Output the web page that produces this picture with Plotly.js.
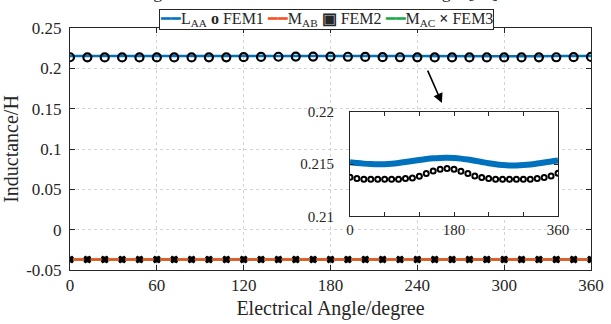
<!DOCTYPE html>
<html>
<head>
<meta charset="utf-8">
<script src="https://cdn.plot.ly/plotly-3.0.1.min.js"></script>
<style>html,body{margin:0;padding:0;background:#fff;}#chart{width:611px;height:324px;}</style>
</head>
<body>
<div id="chart"></div>
<script>
// ---- data ----
const angle = [0,12,24,36,48,60,72,84,96,108,120,132,144,156,168,180,192,204,216,228,240,252,264,276,288,300,312,324,336,348,360];
const L_AA = [0.21520,0.21512,0.21506,0.21502,0.21500,0.21501,0.21505,0.21512,0.21521,0.21531,0.21541,0.21550,0.21557,0.21561,0.21562,0.21560,0.21554,0.21545,0.21534,0.21522,0.21510,0.21500,0.21493,0.21489,0.21489,0.21492,0.21498,0.21507,0.21517,0.21527,0.21536];
const FEM1 = [0.21375,0.21363,0.21356,0.21356,0.21356,0.21356,0.21356,0.21356,0.21363,0.21369,0.21385,0.21411,0.21436,0.21452,0.21459,0.21452,0.21433,0.21411,0.21388,0.21372,0.21363,0.21356,0.21356,0.21356,0.21356,0.21356,0.21356,0.21363,0.21372,0.21388,0.21414];
const M_AB = [-0.037,-0.037,-0.037,-0.037,-0.037,-0.037,-0.037,-0.037,-0.037,-0.037,-0.037,-0.037,-0.037,-0.037,-0.037,-0.037,-0.037,-0.037,-0.037,-0.037,-0.037,-0.037,-0.037,-0.037,-0.037,-0.037,-0.037,-0.037,-0.037,-0.037,-0.037];
const FEM2 = [-0.037,-0.037,-0.037,-0.037,-0.037,-0.037,-0.037,-0.037,-0.037,-0.037,-0.037,-0.037,-0.037,-0.037,-0.037,-0.037,-0.037,-0.037,-0.037,-0.037,-0.037,-0.037,-0.037,-0.037,-0.037,-0.037,-0.037,-0.037,-0.037,-0.037,-0.037];
const M_AC = [-0.037,-0.037,-0.037,-0.037,-0.037,-0.037,-0.037,-0.037,-0.037,-0.037,-0.037,-0.037,-0.037,-0.037,-0.037,-0.037,-0.037,-0.037,-0.037,-0.037,-0.037,-0.037,-0.037,-0.037,-0.037,-0.037,-0.037,-0.037,-0.037,-0.037,-0.037];
const FEM3 = [-0.037,-0.037,-0.037,-0.037,-0.037,-0.037,-0.037,-0.037,-0.037,-0.037,-0.037,-0.037,-0.037,-0.037,-0.037,-0.037,-0.037,-0.037,-0.037,-0.037,-0.037,-0.037,-0.037,-0.037,-0.037,-0.037,-0.037,-0.037,-0.037,-0.037,-0.037];

const seriesNames = ['L<sub>AA</sub>','FEM1','M<sub>AB</sub>','FEM2','M<sub>AC</sub>','FEM3'];
const xTicks = [0,60,120,180,240,300,360];
const yTicks = [-0.05,0,0.05,0.1,0.15,0.2,0.25];
const yTickText = ['-0.05','0','0.05','0.1','0.15','0.2','0.25'];
const insetXTicks = [0,180,360];
const insetXMinor = [60,120,240,300];
const insetYTicks = [0.21,0.215,0.22];
const insetYTickText = ['0.21','0.215','0.22'];
const titleText = 'Winding inductance variation with electrical angle [12]';
const xTitle = 'Electrical Angle/degree';
const yTitle = 'Inductance/H';

// ---- styles ----
const BLUE = '#0072BD', RED = '#F4511E', GREEN = '#16A94A', AX = '#262626';
const SERIF = '"Liberation Serif", "Times New Roman", serif';

const traces = [
  {x: angle, y: M_AC, mode: 'lines', line: {color: GREEN, width: 2.5}, name: seriesNames[4], xaxis: 'x', yaxis: 'y'},
  {x: angle, y: L_AA, mode: 'lines', line: {color: BLUE, width: 2.5}, name: seriesNames[0], xaxis: 'x', yaxis: 'y'},
  {x: angle, y: FEM1, mode: 'markers', marker: {symbol: 'circle-open', size: 8, color: '#000', line: {width: 2.2, color: '#000'}}, name: seriesNames[1], xaxis: 'x', yaxis: 'y'},
  {x: angle, y: M_AB, mode: 'lines', line: {color: RED, width: 2.5}, name: seriesNames[2], xaxis: 'x', yaxis: 'y'},
  {x: angle, y: FEM2, mode: 'markers', marker: {symbol: 'square', size: 6, color: '#000'}, name: seriesNames[3], xaxis: 'x', yaxis: 'y'},
  {x: angle, y: FEM3, mode: 'markers', marker: {symbol: 'x', size: 7, color: '#000', line: {width: 0}}, name: seriesNames[5], xaxis: 'x', yaxis: 'y'},
  // inset
  {x: angle, y: L_AA, mode: 'lines', line: {color: BLUE, width: 6, shape: 'spline'}, name: seriesNames[0], xaxis: 'x2', yaxis: 'y2'},
  {x: angle, y: FEM1, mode: 'markers', marker: {symbol: 'circle-open', size: 5, color: '#000', line: {width: 2, color: '#000'}}, name: seriesNames[1], xaxis: 'x2', yaxis: 'y2'}
];

const legendHtml =
  '<span style="color:' + BLUE + '">━━</span>' + seriesNames[0] +
  ' <b>o</b> ' + seriesNames[1] +
  ' <span style="color:' + RED + '">━━</span>' + seriesNames[2] +
  ' <b>▣</b> ' + seriesNames[3] + ' ' +
  '<span style="color:' + GREEN + '">━━</span>' + seriesNames[4] +
  ' <b>×</b> ' + seriesNames[5];

const baseAxis = {
  showline: true, linecolor: AX, linewidth: 1, mirror: 'ticks',
  ticks: 'inside', ticklen: 5, tickcolor: AX, tickwidth: 1,
  zeroline: false, tickfont: {family: SERIF, size: 17, color: AX}
};

const layout = {
  width: 611, height: 324,
  margin: {l: 70, r: 20, t: 28, b: 54, pad: 0},
  paper_bgcolor: '#fff', plot_bgcolor: '#fff',
  showlegend: false,
  font: {family: SERIF, color: AX},
  xaxis: Object.assign({}, baseAxis, {
    domain: [0, 1], range: [0, 360], tickvals: xTicks, ticktext: xTicks.map(String),
    showgrid: true, gridcolor: '#d4d4d4', griddash: 'dot', gridwidth: 1,
    title: {text: xTitle, font: {family: SERIF, size: 20, color: AX}, standoff: 6}
  }),
  yaxis: Object.assign({}, baseAxis, {
    domain: [0, 1], range: [-0.05, 0.25], tickvals: yTicks, ticktext: yTickText,
    showgrid: true, gridcolor: '#d4d4d4', griddash: 'dot', gridwidth: 1,
    ticklabelstandoff: 4,
    title: {text: yTitle, font: {family: SERIF, size: 20, color: AX}, standoff: 6}
  }),
  xaxis2: Object.assign({}, baseAxis, {
    anchor: 'y2', domain: [0.5374, 0.9367], range: [0, 360],
    tickvals: insetXTicks, ticktext: insetXTicks.map(String), showgrid: false, ticklen: 4,
    minor: {tickvals: insetXMinor, ticks: 'inside', ticklen: 4, tickcolor: AX, showgrid: false},
    tickfont: {family: SERIF, size: 15, color: AX}
  }),
  yaxis2: Object.assign({}, baseAxis, {
    anchor: 'x2', domain: [0.222, 0.652], range: [0.21, 0.22],
    tickvals: insetYTicks, ticktext: insetYTickText, showgrid: false, ticklen: 4,
    ticklabelstandoff: 12,
    tickfont: {family: SERIF, size: 15, color: AX}
  }),
  annotations: [
    {xref: 'x', yref: 'y', axref: 'x', ayref: 'y', x: 257, y: 0.157, ax: 246.7, ay: 0.199,
     text: '', showarrow: true, arrowhead: 2, arrowsize: 1.2, arrowwidth: 1.6, arrowcolor: '#000'},
    {xref: 'paper', yref: 'paper', x: 0.493, y: 1.037, xanchor: 'center', yanchor: 'middle',
     text: legendHtml, showarrow: false, bordercolor: AX, borderwidth: 1, borderpad: 0,
     bgcolor: '#fff', font: {family: SERIF, size: 16, color: AX}},
    {xref: 'paper', yref: 'paper', x: 0.44, y: 1.1, xanchor: 'center', yanchor: 'bottom',
     text: titleText, showarrow: false, font: {family: SERIF, size: 18, color: AX}}
  ]
};

Plotly.newPlot('chart', traces, layout, {staticPlot: true, displayModeBar: false});
</script>
</body>
</html>
